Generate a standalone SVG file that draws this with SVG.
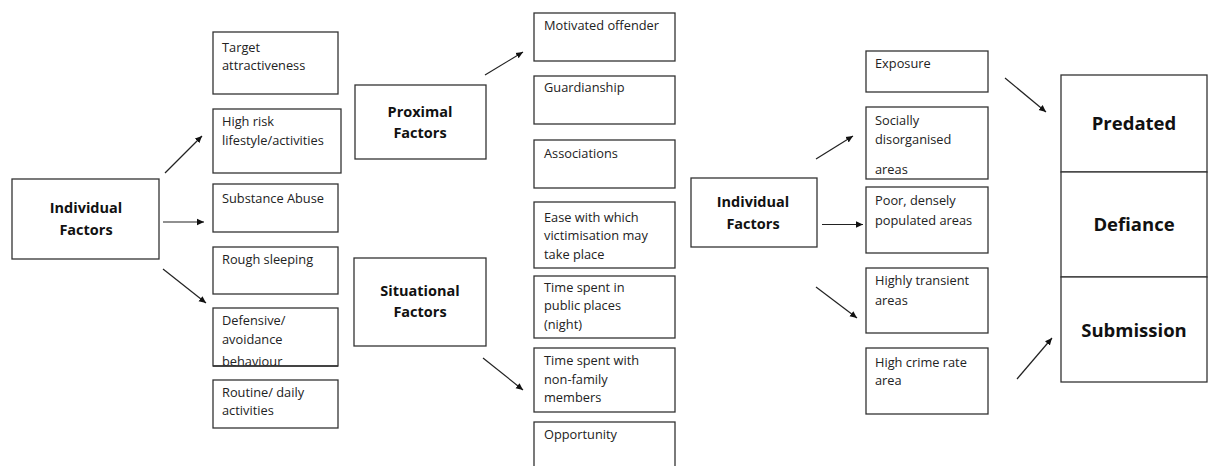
<svg xmlns="http://www.w3.org/2000/svg" width="1208" height="466" viewBox="0 0 1208 466">
<defs>
<marker id="ah" markerWidth="8" markerHeight="8" refX="7" refY="4" orient="auto" markerUnits="userSpaceOnUse">
<path d="M0,0.8 L7,4 L0,7.2 Z" fill="#111"/>
</marker>
<style>
.box{fill:#fff;stroke:#333;stroke-width:1.3}
.t{font-family:"Open Sans","Noto Sans","Liberation Sans",sans-serif;font-size:12.8px;fill:#222}
.b{font-family:"Open Sans","Noto Sans","Liberation Sans",sans-serif;font-size:14.5px;font-weight:bold;fill:#111;text-anchor:middle}
.bb{font-family:"Open Sans","Noto Sans","Liberation Sans",sans-serif;font-size:18.5px;font-weight:bold;fill:#111;text-anchor:middle}
.c{stroke:#222;stroke-width:1.2;fill:none;marker-end:url(#ah)}
</style>
</defs>
<rect width="1208" height="466" fill="#fff"/>

<g id="individual-left"><rect class="box" x="12" y="179" width="147" height="80"/><text class="b" x="86" y="213">Individual</text><text class="b" x="86" y="235">Factors</text></g>
<g id="target"><rect class="box" x="213" y="32" width="125" height="62"/><text class="t" x="222" y="51.5">Target</text><text class="t" x="222" y="70">attractiveness</text></g>
<g id="highrisk"><rect class="box" x="213" y="109" width="128" height="64"/><text class="t" x="222" y="126">High risk</text><text class="t" x="222" y="145">lifestyle/activities</text></g>
<g id="substance"><rect class="box" x="213" y="184" width="125" height="48"/><text class="t" x="222" y="202.5">Substance Abuse</text></g>
<g id="rough"><rect class="box" x="213" y="247" width="125" height="47"/><text class="t" x="222" y="263.5">Rough sleeping</text></g>
<g id="defensive"><rect class="box" x="213" y="308" width="125" height="58"/><text class="t" x="222" y="325">Defensive/</text><text class="t" x="222" y="344">avoidance</text><text class="t" x="222" y="365.5">behaviour</text><line x1="213" y1="366" x2="338" y2="366" stroke="#333" stroke-width="1.3"/></g>
<g id="routine"><rect class="box" x="213" y="380" width="125" height="48"/><text class="t" x="222" y="397">Routine/ daily</text><text class="t" x="222" y="415">activities</text></g>

<g id="proximal"><rect class="box" x="355" y="85" width="131" height="74"/><text class="b" x="420" y="117">Proximal</text><text class="b" x="420" y="138">Factors</text></g>
<g id="situational"><rect class="box" x="354" y="258" width="132" height="88"/><text class="b" x="420" y="296">Situational</text><text class="b" x="420" y="317">Factors</text></g>

<g id="motivated"><rect class="box" x="534" y="13" width="141" height="48"/><text class="t" x="544" y="30">Motivated offender</text></g>
<g id="guardianship"><rect class="box" x="534" y="76" width="141" height="48"/><text class="t" x="544" y="91.5">Guardianship</text></g>
<g id="associations"><rect class="box" x="534" y="140" width="141" height="48"/><text class="t" x="544" y="158">Associations</text></g>
<g id="ease"><rect class="box" x="534" y="202" width="141" height="66"/><text class="t" x="544" y="221.5">Ease with which</text><text class="t" x="544" y="240">victimisation may</text><text class="t" x="544" y="258.5">take place</text></g>
<g id="publicplaces"><rect class="box" x="534" y="276" width="141" height="62"/><text class="t" x="544" y="291.5">Time spent in</text><text class="t" x="544" y="310">public places</text><text class="t" x="544" y="328.5">(night)</text></g>
<g id="nonfamily"><rect class="box" x="534" y="348" width="141" height="64"/><text class="t" x="544" y="365">Time spent with</text><text class="t" x="544" y="383.5">non-family</text><text class="t" x="544" y="402">members</text></g>
<g id="opportunity"><rect class="box" x="534" y="422" width="141" height="50"/><text class="t" x="544" y="438.5">Opportunity</text></g>

<g id="individual-right"><rect class="box" x="691" y="178" width="126" height="69"/><text class="b" x="753" y="207">Individual</text><text class="b" x="753" y="228.5">Factors</text></g>
<g id="exposure"><rect class="box" x="866" y="51" width="122" height="41"/><text class="t" x="875" y="67.5">Exposure</text></g>
<g id="socially"><rect class="box" x="866" y="107" width="122" height="72"/><text class="t" x="875" y="124.5">Socially</text><text class="t" x="875" y="143.5">disorganised</text><text class="t" x="875" y="174">areas</text></g>
<g id="poor"><rect class="box" x="866" y="187" width="122" height="66"/><text class="t" x="875" y="205">Poor, densely</text><text class="t" x="875" y="224.5">populated areas</text></g>
<g id="transient"><rect class="box" x="866" y="268" width="122" height="65"/><text class="t" x="875" y="285">Highly transient</text><text class="t" x="875" y="304.5">areas</text></g>
<g id="highcrime"><rect class="box" x="866" y="348" width="122" height="66"/><text class="t" x="875" y="366.5">High crime rate</text><text class="t" x="875" y="385">area</text></g>

<g id="predated"><rect class="box" x="1061" y="75" width="146" height="97"/><text class="bb" x="1134" y="130">Predated</text></g>
<g id="defiance"><rect class="box" x="1061" y="172" width="146" height="105"/><text class="bb" x="1134" y="231">Defiance</text></g>
<g id="submission"><rect class="box" x="1061" y="277" width="146" height="105"/><text class="bb" x="1134" y="337">Submission</text></g>

<g id="connectors">
<line class="c" x1="165" y1="173" x2="202" y2="136"/>
<line class="c" x1="163" y1="222" x2="204" y2="222"/>
<line class="c" x1="163" y1="269" x2="206" y2="303"/>
<line class="c" x1="485" y1="75" x2="523" y2="52"/>
<line class="c" x1="483" y1="358" x2="523" y2="390"/>
<line class="c" x1="816" y1="159" x2="853" y2="136"/>
<line class="c" x1="822" y1="224.5" x2="863" y2="224.5"/>
<line class="c" x1="816" y1="287" x2="857" y2="318"/>
<line class="c" x1="1005" y1="78" x2="1046" y2="112"/>
<line class="c" x1="1017" y1="379" x2="1052" y2="338"/>
</g>
</svg>
